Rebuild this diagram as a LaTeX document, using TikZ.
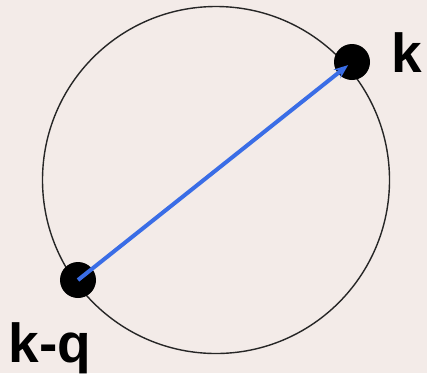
\documentclass[tikz,border=0pt]{standalone}
\usepackage{fontspec}
\setmainfont{Liberation Sans}
\usetikzlibrary{arrows.meta}
\definecolor{paper}{HTML}{F3EBE8}
\definecolor{arrowblue}{HTML}{3A6DE6}

\begin{document}
\begin{tikzpicture}[x=1pt, y=-1pt,
  dot/.style={circle, fill=black, inner sep=0pt, minimum size=36pt},
  lbl/.style={font=\fontsize{55}{60}\selectfont\bfseries, inner sep=0pt, anchor=base}]
\fill[paper] (0,0) rectangle (427,373);
\useasboundingbox (0,0) rectangle (427,373);
\node[draw=black!85, line width=1.4pt, circle, inner sep=0pt,
      minimum size=347pt] (ring) at (216,180) {};
\node[dot] (k) at (352,62) {};
\node[dot] (kq) at (78,280) {};
\draw[-{Stealth[length=14pt, width=11pt]}, arrowblue, line width=4pt,
      shorten >=5pt] (kq.center) -- (k.center);
\node[lbl] (klab) at (407,72) {k};
\node[lbl] (kqlab) at (50,362) {k-q};
\end{tikzpicture}
\end{document}
